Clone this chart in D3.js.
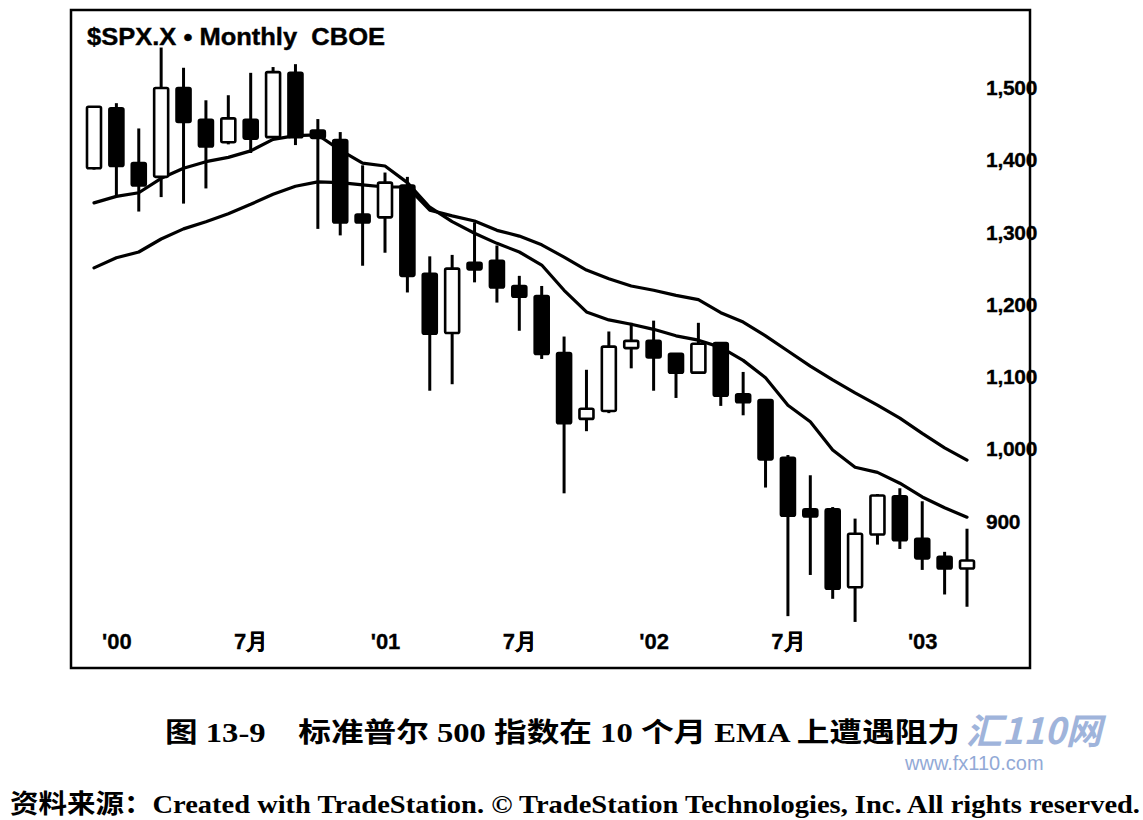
<!DOCTYPE html>
<html>
<head>
<meta charset="utf-8">
<script src="https://cdn.jsdelivr.net/npm/d3@7"></script>
<style>
  html, body { margin: 0; padding: 0; background: #fff; }
  svg { display: block; }
  .pre { white-space: pre; }
</style>
</head>
<body>
<svg id="chart" width="1143" height="820"></svg>
<script>
// ---- data ----
const months = ["1999-12","2000-01","2000-02","2000-03","2000-04","2000-05","2000-06","2000-07","2000-08","2000-09",
  "2000-10","2000-11","2000-12","2001-01","2001-02","2001-03","2001-04","2001-05","2001-06","2001-07",
  "2001-08","2001-09","2001-10","2001-11","2001-12","2002-01","2002-02","2002-03","2002-04","2002-05",
  "2002-06","2002-07","2002-08","2002-09","2002-10","2002-11","2002-12","2003-01","2003-02","2003-03"];
const openV  = [1389,1472,1396,1377,1500,1456,1425,1456,1432,1521, 1441,1428,1325,1321,1365,1243,1161,1258,1261,1226,
  1212,1133,1042,1053,1140,1150,1132,1106,1147,1076, 1068,988,917,917,809,882,935,876,851,835];
const highV  = [1475,1479,1444,1556,1528,1483,1490,1521,1529,1533, 1457,1439,1393,1383,1377,1267,1269,1314,1282,1240,
  1226,1156,1110,1163,1175,1178,1132,1175,1147,1107, 1068,992,964,920,904,938,946,928,858,890];
const lowV   = [1387,1349,1329,1349,1340,1361,1422,1410,1432,1421, 1305,1296,1254,1272,1217,1081,1090,1231,1203,1164,
  1125,939,1025,1050,1112,1081,1071,1106,1060,1047, 947,769,826,793,761,868,862,833,799,782];
const closeV = [1474,1392,1365,1500,1453,1419,1458,1430,1522,1432, 1431,1314,1314,1369,1240,1160,1250,1249,1224,1211,
  1132,1036,1056,1142,1150,1127,1106,1146,1074,1065, 986,908,907,807,883,936,874,849,835,846];
// faster EMA (10-month) and slower EMA, as drawn
const emaFast = [1341,1350,1355,1375,1389,1398,1404,1413,1429,1434, 1435,1414,1396,1392,1369,1335,1315,1299,1285,1273,
  1255,1220,1190,1179,1173,1166,1157,1151,1141,1123, 1099,1061,1038,999,975,968,953,934,919,906];
const emaSlow = [1251,1265,1273,1291,1305,1315,1326,1339,1353,1364, 1370,1369,1366,1363,1363,1331,1323,1316,1303,1295,
  1283,1266,1248,1236,1226,1220,1213,1207,1189,1176, 1157,1136,1115,1096,1078,1061,1043,1022,1002,985];
const yTicks = [900,1000,1100,1200,1300,1400,1500];
const xTickMonths = ["2000-01","2000-07","2001-01","2001-07","2002-01","2002-07","2003-01"];
const xTickLabels = ["'00","7月","'01","7月","'02","7月","'03"];
const titleText = "$SPX.X \u2022 Monthly  CBOE";
const caption1 = "图 13-9\u3000标准普尔 500 指数在 10 个月 EMA 上遭遇阻力";
const caption2 = "资料来源：Created with TradeStation. © TradeStation Technologies, Inc. All rights reserved.";

// ---- drawing ----
const svg = d3.select("#chart");
const x = d3.scalePoint().domain(months).range([94, 967]);
const y = d3.scaleLinear().domain([900, 1500]).range([521.5, 88]);

const sansB = "'Liberation Sans', Arial, Helvetica, sans-serif";

// frame
svg.append("rect").attr("x", 71).attr("y", 10).attr("width", 959).attr("height", 658)
  .attr("fill", "none").attr("stroke", "#000").attr("stroke-width", 2.5);

// title
svg.append("text").attr("class", "pre").attr("x", 87).attr("y", 45).text(titleText)
  .attr("font-family", sansB).attr("font-weight", "bold").attr("font-size", 24)
  .attr("fill", "#000").attr("stroke", "#000").attr("stroke-width", 0.4)
  .attr("textLength", 298).attr("lengthAdjust", "spacingAndGlyphs");

// EMA lines
const lineGen = d3.line().x((d, i) => x(months[i])).y(d => y(d));
svg.append("path").datum(emaSlow).attr("d", lineGen)
  .attr("fill", "none").attr("stroke", "#000").attr("stroke-width", 3.2).attr("stroke-linejoin", "round").attr("stroke-linecap", "round");
svg.append("path").datum(emaFast).attr("d", lineGen)
  .attr("fill", "none").attr("stroke", "#000").attr("stroke-width", 3.2).attr("stroke-linejoin", "round").attr("stroke-linecap", "round");

// candles
const data = months.map((m, i) => ({m, o: openV[i], h: highV[i], l: lowV[i], c: closeV[i]}));
const bw = 14;
const g = svg.append("g");
g.selectAll("line.wick").data(data).join("line").attr("class", "wick")
  .attr("x1", d => x(d.m)).attr("x2", d => x(d.m))
  .attr("y1", d => y(d.h)).attr("y2", d => y(d.l))
  .attr("stroke", "#000").attr("stroke-width", 3);
g.selectAll("rect.body").data(data).join("rect").attr("class", "body")
  .attr("x", d => x(d.m) - bw / 2)
  .attr("y", d => y(Math.max(d.o, d.c)))
  .attr("width", bw)
  .attr("height", d => Math.max(4, Math.abs(y(d.o) - y(d.c))))
  .attr("rx", 1.5)
  .attr("fill", d => d.c >= d.o ? "#fff" : "#000")
  .attr("stroke", "#000").attr("stroke-width", 2.6);

// y axis (right)
const yAxis = d3.axisRight(y).tickValues(yTicks).tickSize(0).tickPadding(0).tickFormat(d3.format(","));
const gy = svg.append("g").attr("transform", "translate(986,0)").call(yAxis);
gy.select(".domain").remove();
gy.selectAll("text").attr("font-family", sansB).attr("font-weight", "bold")
  .attr("font-size", 21).attr("fill", "#000").attr("stroke", "#000").attr("stroke-width", 0.3)
  .attr("letter-spacing", -0.3);

// x axis (labels)
const xAxis = d3.axisBottom(x).tickValues(xTickMonths).tickSize(0).tickPadding(0)
  .tickFormat(m => xTickLabels[xTickMonths.indexOf(m)]);
const gx = svg.append("g").attr("transform", "translate(0,632)").call(xAxis);
gx.select(".domain").remove();
gx.selectAll("text").attr("font-family", sansB).attr("font-weight", "bold")
  .attr("font-size", 22).attr("fill", "#000").attr("stroke", "#000").attr("stroke-width", 0.3)
  .attr("dy", "0.75em");

// captions
svg.append("text").attr("x", 165).attr("y", 742).text(caption1)
  .attr("font-family", "'Liberation Serif', 'Times New Roman', 'Noto Sans CJK SC', serif")
  .attr("font-weight", "bold").attr("font-size", 27).attr("fill", "#000")
  .attr("textLength", 795).attr("lengthAdjust", "spacingAndGlyphs");

svg.append("text").attr("x", 10).attr("y", 813).text(caption2)
  .attr("font-family", "'Liberation Serif', 'Times New Roman', 'Noto Sans CJK SC', serif")
  .attr("font-weight", "bold").attr("font-size", 26).attr("fill", "#000")
  .attr("textLength", 1130).attr("lengthAdjust", "spacingAndGlyphs");

// watermark
svg.append("text").attr("x", 966).attr("y", 744).text("汇110网")
  .attr("font-family", "'Noto Sans CJK SC', sans-serif").attr("font-weight", "bold")
  .attr("font-style", "italic").attr("font-size", 36).attr("fill", "#7f9bd0").attr("opacity", 0.75);
svg.append("text").attr("x", 905).attr("y", 770).text("www.fx110.com")
  .attr("font-family", sansB).attr("font-size", 20).attr("fill", "#7f9bd0").attr("opacity", 0.85);
</script>
</body>
</html>
